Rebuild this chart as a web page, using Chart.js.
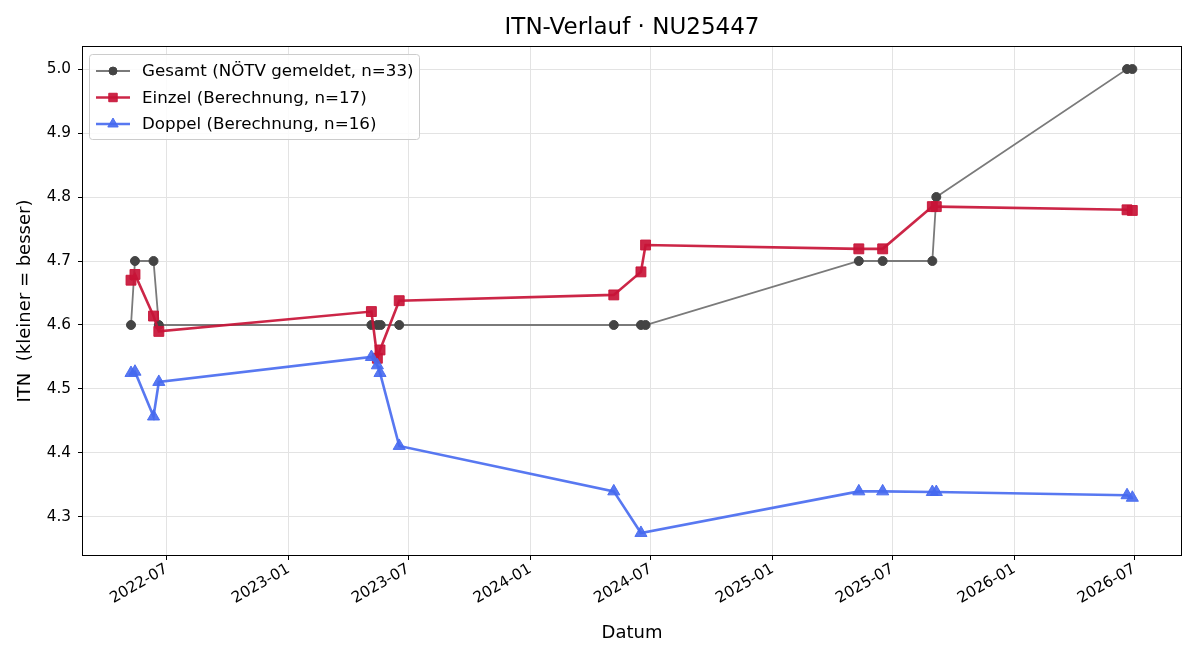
<!DOCTYPE html>
<html>
<head>
<meta charset="utf-8">
<script src="https://cdn.jsdelivr.net/npm/chart.js@4"></script>
<style>
  html, body { margin: 0; padding: 0; background: #fff; }
  #wrap { width: 1200px; height: 660px; }
</style>
</head>
<body>
<div id="wrap"><canvas id="myChart" width="1200" height="660"></canvas></div>
<script>
// data
const gesamtDates = ['2022-05-08', '2022-05-14', '2022-06-11', '2022-06-19',
    '2023-05-06', '2023-05-15', '2023-05-20', '2023-06-17',
    '2024-05-06', '2024-06-16', '2024-06-23',
    '2025-05-11', '2025-06-16', '2025-08-30', '2025-09-05',
    '2026-06-20', '2026-06-28'];
const gesamtValues = [4.6, 4.7, 4.7, 4.6,
    4.6, 4.6, 4.6, 4.6,
    4.6, 4.6, 4.6,
    4.7, 4.7, 4.7, 4.8,
    5.0, 5.0];

const einzelDates = ['2022-05-08', '2022-05-14', '2022-06-11', '2022-06-19',
    '2023-05-06', '2023-05-15', '2023-05-19', '2023-06-17',
    '2024-05-06', '2024-06-16', '2024-06-23',
    '2025-05-11', '2025-06-16', '2025-08-30', '2025-09-05',
    '2026-06-20', '2026-06-28'];
const einzelValues = [4.670, 4.679, 4.614, 4.590,
    4.621, 4.548, 4.561, 4.638,
    4.647, 4.683, 4.725,
    4.719, 4.719, 4.785, 4.785,
    4.780, 4.779];

const doppelDates = ['2022-05-08', '2022-05-14', '2022-06-11', '2022-06-19',
    '2023-05-06', '2023-05-15', '2023-05-19', '2023-06-17',
    '2024-05-06', '2024-06-16',
    '2025-05-11', '2025-06-16', '2025-08-30', '2025-09-05',
    '2026-06-20', '2026-06-28'];
const doppelValues = [4.525, 4.527, 4.457, 4.511,
    4.550, 4.537, 4.525, 4.411,
    4.340, 4.275,
    4.340, 4.340, 4.339, 4.339,
    4.334, 4.330];

const xTickLabels = ['2022-07', '2023-01', '2023-07', '2024-01', '2024-07',
    '2025-01', '2025-07', '2026-01', '2026-07'];
const yTickValues = [4.3, 4.4, 4.5, 4.6, 4.7, 4.8, 4.9, 5.0];

const xMin = Date.parse('2022-02-23');
const xMax = Date.parse('2026-09-11');

function toPoints(dates, values) {
    return dates.map(function (d, i) {
        return { x: Date.parse(d), y: values[i] };
    });
}

const FONT = "'DejaVu Sans', sans-serif";
Chart.defaults.font.family = FONT;
Chart.defaults.color = '#000';

const RED = 'rgba(200, 20, 55, 0.92)';
const BLUE = 'rgba(70, 105, 240, 0.9)';
const GRAY_LINE = '#7a7a7a';
const GRAY_PT = '#444444';

// legend + frame + title drawn by hand, matplotlib-like
const extras = {
    id: 'extras',
    afterDatasetsDraw(chart) {
        const c = chart.ctx;
        const a = chart.chartArea;
        c.save();
        c.strokeStyle = '#000';
        c.lineWidth = 1;
        c.strokeRect(Math.round(a.left) + 0.5, Math.round(a.top) + 0.5,
            Math.round(a.right - a.left) - 1, Math.round(a.bottom - a.top) - 1);

        // title
        c.fillStyle = '#000';
        c.font = '23px ' + FONT;
        c.textAlign = 'center';
        c.textBaseline = 'middle';
        c.fillText('ITN-Verlauf \u00b7 NU25447', (a.left + a.right) / 2, 28);

        // legend box
        const bx = 89, by = 54, bw = 330, bh = 85;
        c.beginPath();
        c.roundRect(bx + 0.5, by + 0.5, bw, bh, 3);
        c.fillStyle = 'rgba(255,255,255,0.85)';
        c.fill();
        c.strokeStyle = '#cccccc';
        c.stroke();

        c.font = '16.7px ' + FONT;
        c.textAlign = 'left';
        chart.data.datasets.forEach(function (ds, i) {
            const y = 71 + i * 26.5;
            c.beginPath();
            c.moveTo(96, y);
            c.lineTo(130, y);
            c.strokeStyle = ds.borderColor;
            c.lineWidth = ds.borderWidth;
            c.stroke();
            c.fillStyle = ds.pointBackgroundColor;
            c.strokeStyle = ds.pointBorderColor;
            c.lineWidth = 1;
            c.beginPath();
            Chart.helpers.drawPoint(c, {
                pointStyle: ds.pointStyle,
                radius: ds.pointStyle === 'circle' ? 4 : 6,
                borderWidth: 1,
                rotation: 0
            }, 113, y);
            c.fillStyle = '#000';
            c.fillText(ds.label, 142, y + 1);
        });
        c.restore();
    }
};

const ctx = document.getElementById('myChart').getContext('2d');
const myChart = new Chart(ctx, {
    type: 'line',
    data: {
        datasets: [{
            label: 'Gesamt (N\u00d6TV gemeldet, n=33)',
            data: toPoints(gesamtDates, gesamtValues),
            borderColor: GRAY_LINE,
            borderWidth: 1.8,
            pointStyle: 'circle',
            pointRadius: 4.5,
            pointBackgroundColor: GRAY_PT,
            pointBorderColor: GRAY_PT,
            pointBorderWidth: 1,
            order: 3
        }, {
            label: 'Einzel (Berechnung, n=17)',
            data: toPoints(einzelDates, einzelValues),
            borderColor: RED,
            borderWidth: 2.6,
            pointStyle: 'rect',
            pointRadius: 7,
            pointBackgroundColor: RED,
            pointBorderColor: RED,
            pointBorderWidth: 1,
            order: 2
        }, {
            label: 'Doppel (Berechnung, n=16)',
            data: toPoints(doppelDates, doppelValues),
            borderColor: BLUE,
            borderWidth: 2.6,
            pointStyle: 'triangle',
            pointRadius: 7,
            pointBackgroundColor: BLUE,
            pointBorderColor: BLUE,
            pointBorderWidth: 1,
            order: 1
        }]
    },
    options: {
        responsive: false,
        animation: false,
        layout: { padding: { left: 0, right: 18, top: 46, bottom: 0 } },
        plugins: {
            legend: { display: false },
            title: { display: false },
            tooltip: { enabled: false }
        },
        elements: { line: { tension: 0 } },
        scales: {
            x: {
                type: 'linear',
                min: xMin,
                max: xMax,
                afterBuildTicks: function (scale) {
                    scale.ticks = xTickLabels.map(function (l) {
                        return { value: Date.parse(l + '-01') };
                    });
                },
                afterFit: function (scale) { scale.height = 104; },
                ticks: {
                    autoSkip: false,
                    minRotation: 30,
                    maxRotation: 30,
                    padding: 0,
                    font: { size: 15.3 },
                    color: '#000',
                    callback: function (value) {
                        const d = new Date(value);
                        const m = d.getUTCMonth() + 1;
                        return d.getUTCFullYear() + '-' + (m < 10 ? '0' + m : m);
                    }
                },
                grid: {
                    color: '#e3e3e3',
                    tickColor: '#000',
                    tickLength: 4
                },
                border: { display: false },
                title: {
                    display: true,
                    text: 'Datum',
                    font: { size: 18 },
                    color: '#000',
                    padding: { top: 16, bottom: 16 }
                }
            },
            y: {
                min: 4.239,
                max: 5.036,
                afterBuildTicks: function (scale) {
                    scale.ticks = yTickValues.map(function (v) { return { value: v }; });
                },
                afterFit: function (scale) { scale.width = 82; },
                ticks: {
                    padding: 7,
                    font: { size: 15.3 },
                    color: '#000',
                    callback: function (value) { return value.toFixed(1); }
                },
                grid: {
                    color: '#e3e3e3',
                    tickColor: '#000',
                    tickLength: 4
                },
                border: { display: false },
                title: {
                    display: true,
                    text: 'ITN  (kleiner = besser)',
                    font: { size: 18 },
                    color: '#000',
                    padding: { top: 15, bottom: 15 }
                }
            }
        }
    },
    plugins: [extras]
});
</script>
</body>
</html>
